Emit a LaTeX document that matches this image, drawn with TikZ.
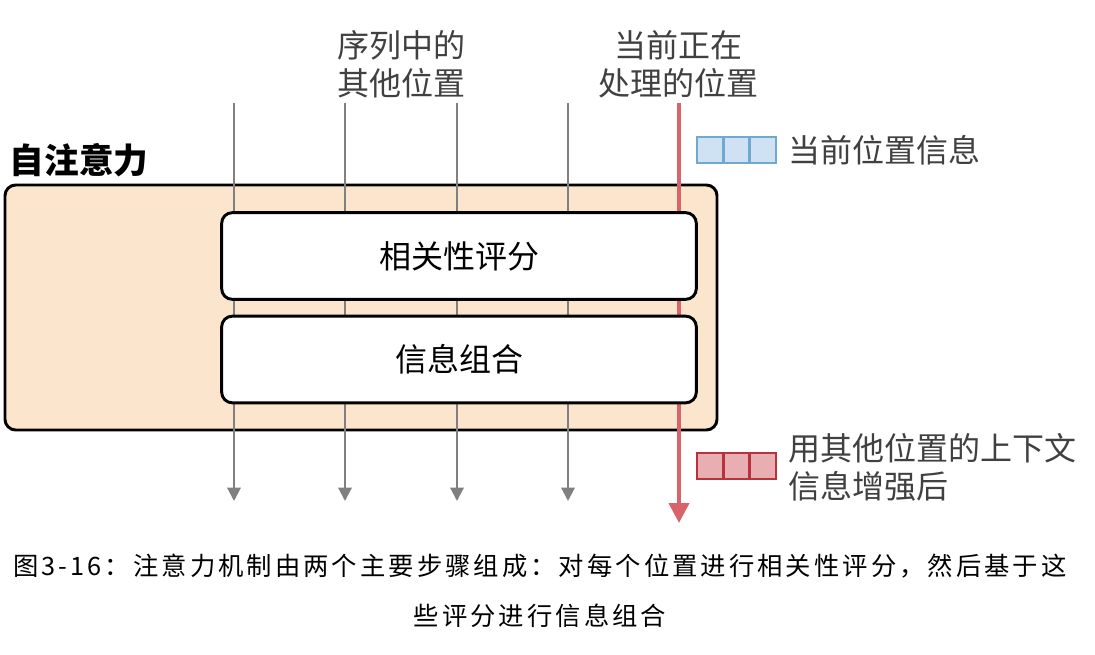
\documentclass[tikz,border=0pt]{standalone}
\usepackage{fontspec}
\setmainfont{Noto Sans CJK SC}
\newfontfamily\capfont[LetterSpace=12]{Noto Sans CJK SC}
\usetikzlibrary{arrows.meta}
\definecolor{boxfill}{HTML}{FCE5CD}
\definecolor{lineg}{HTML}{808080}
\definecolor{liner}{HTML}{D8636B}
\definecolor{txtg}{HTML}{404040}
\definecolor{bluefill}{HTML}{CFE2F3}
\definecolor{blueline}{HTML}{6FA8D0}
\definecolor{redfill}{HTML}{E8AEB2}
\definecolor{redline}{HTML}{B8323C}
\begin{document}
\begin{tikzpicture}[x=0.75pt, y=-0.75pt,
  outer box/.style={draw=black, line width=2.2pt, fill=boxfill, rounded corners=8pt},
  step box/.style={draw=black, line width=2.2pt, fill=white, rounded corners=8pt, minimum width=356pt, minimum height=65pt, font=\fontsize{24}{28}\selectfont, text=black},
  gray line/.style={draw=lineg, line width=1.6pt, -{Triangle[width=10pt,length=10pt]}},
  red line/.style={draw=liner, line width=3.2pt, -{Triangle[width=15pt,length=15pt]}},
  label text/.style={text=txtg, font=\fontsize{24}{28.5}\selectfont, align=center},
  blue cell/.style={draw=blueline, fill=bluefill, line width=1.5pt, minimum size=19pt, inner sep=0pt},
  red cell/.style={draw=redline, fill=redfill, line width=1.5pt, minimum size=19pt, inner sep=0pt}]
\useasboundingbox (0,0) rectangle (1095,655);
% frame
\draw[outer box] (5,185) rectangle (717,430);
\node[anchor=west, font=\fontsize{26}{30}\selectfont\bfseries] (title) at (5,160) {自注意力};
% position lines
\foreach \i/\x in {1/234,2/345,3/457,4/568}{
  \coordinate (t\i) at (\x,103);
  \coordinate (b\i) at (\x,501);
  \draw[gray line] (t\i) -- (b\i);
}
\coordinate (tc) at (679,103);
\coordinate (bc) at (679,523);
\draw[red line] (tc) -- (bc);
% steps
\node[step box] (score) at (459,256) {相关性评分};
\node[step box] (combine) at (459,359.5) {信息组合};
% top labels
\node[label text] (others) at (401,64) {序列中的\\其他位置};
\node[label text] (current) at (678,64) {当前正在\\处理的位置};
% legend
\foreach \k in {0,1,2}{
  \node[blue cell] (bc\k) at (710+26.5*\k,150) {};
  \node[red cell] (rc\k) at (710+26.5*\k,466) {};
}
\node[label text, anchor=west] (curinfo) at (784,150) {当前位置信息};
\node[label text, anchor=west, align=left] (enhanced) at (784,467) {用其他位置的上下文\\信息增强后};
% caption
\node[font=\capfont\fontsize{19}{24}\selectfont, text=black] (cap1) at (540,566) {图3-16：注意力机制由两个主要步骤组成：对每个位置进行相关性评分，然后基于这};
\node[font=\capfont\fontsize{19}{24}\selectfont, text=black] (cap2) at (540,616) {些评分进行信息组合};
\end{tikzpicture}
\end{document}
